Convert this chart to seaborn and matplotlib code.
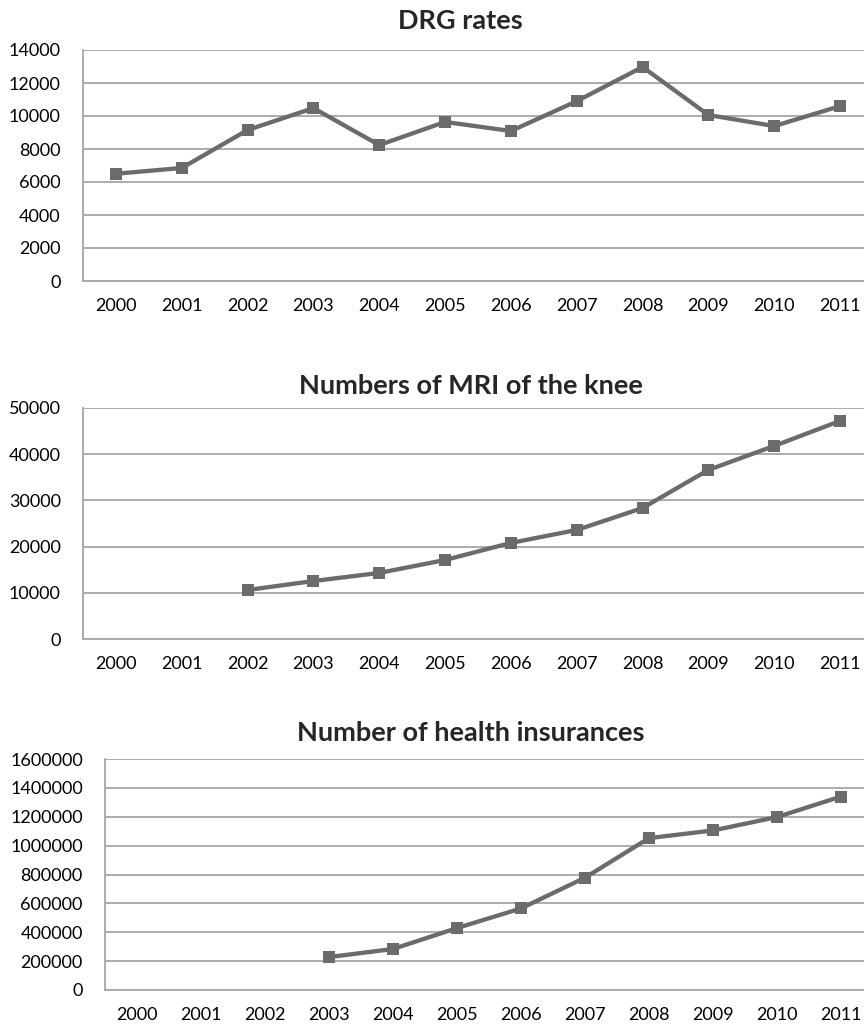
import numpy as np
import pandas as pd
import seaborn as sns
from matplotlib import pyplot as plt

# %% Data

Years = [2000, 2001, 2002, 2003, 2004, 2005, 2006, 2007, 2008, 2009, 2010, 2011]
DrgRates = [6500, 6850, 9150, 10480, 8240, 9640, 9090, 10900, 12970, 10060, 9390, 10600]
MriKnee = [np.nan, np.nan, 10600, 12550, 14300, 17100, 20800, 23600, 28350, 36600, 41800, 47200]
HealthIns = [np.nan, np.nan, np.nan, 228000, 284000, 429000, 565000, 778000, 1052000,
             1105000, 1198000, 1340000]

Titles = ['DRG rates', 'Numbers of MRI of the knee', 'Number of health insurances']
YTicks = [np.arange(0, 14001, 2000),
          np.arange(0, 50001, 10000),
          np.arange(0, 1600001, 200000)]

dfData = pd.DataFrame({'Year': Years,
                       'DRG': DrgRates,
                       'MRI': MriKnee,
                       'Ins': HealthIns})

# %% Figure

sns.set_style('white')
plt.rcParams['font.family'] = ['Lato', 'DejaVu Sans']

W, H = 864, 1025
fig = plt.figure(figsize=(W / 100, H / 100), dpi=100)

# axes boxes in pixels: left, right, top, bottom
Boxes = [(83, 873, 50, 281),
         (83, 873, 408, 639),
         (105, 873, 759, 990)]
TitlePos = [(460, 21), (471, 386), (471, 733)]
Cols = ['DRG', 'MRI', 'Ins']

GridCol = '#a6a6a6'
LineCol = '#6b6b6b'

for col, box, title, tpos, yt in zip(Cols, Boxes, Titles, TitlePos, YTicks):
    l, r, t, b = box
    ax = fig.add_axes([l / W, 1 - b / H, (r - l) / W, (b - t) / H])
    sns.lineplot(data=dfData, x='Year', y=col, ax=ax,
                 color=LineCol, linewidth=3.1,
                 marker='s', markersize=9, markeredgewidth=0,
                 markerfacecolor=LineCol)
    ax.set_xlim(1999.5, 2011.5)
    ax.set_ylim(yt[0], yt[-1])
    ax.set_yticks(yt)
    ax.set_yticklabels([str(v) for v in yt])
    ax.set_xticks(Years)
    ax.set_xticklabels([str(y) for y in Years])
    ax.set_xticks(np.arange(1999.5, 2012, 1.0), minor=True)
    ax.tick_params(axis='x', which='major', length=0, pad=12, labelsize=13,
                   colors='black')
    ax.tick_params(axis='x', which='minor', length=6, width=1.3, color=GridCol)
    ax.tick_params(axis='y', length=6, width=1.3, color=GridCol, pad=10,
                   labelsize=13, labelcolor='black')
    ax.yaxis.grid(True, color=GridCol, linewidth=1.3)
    ax.set_axisbelow(True)
    for s in ['top', 'right']:
        ax.spines[s].set_visible(False)
    for s in ['left', 'bottom']:
        ax.spines[s].set_color(GridCol)
        ax.spines[s].set_linewidth(1.3)
    ax.set_xlabel('')
    ax.set_ylabel('')
    fig.text(tpos[0] / W, 1 - tpos[1] / H, title, ha='center', va='center',
             fontsize=19.5, fontweight='bold')

fig.savefig('out.png', dpi=100)
